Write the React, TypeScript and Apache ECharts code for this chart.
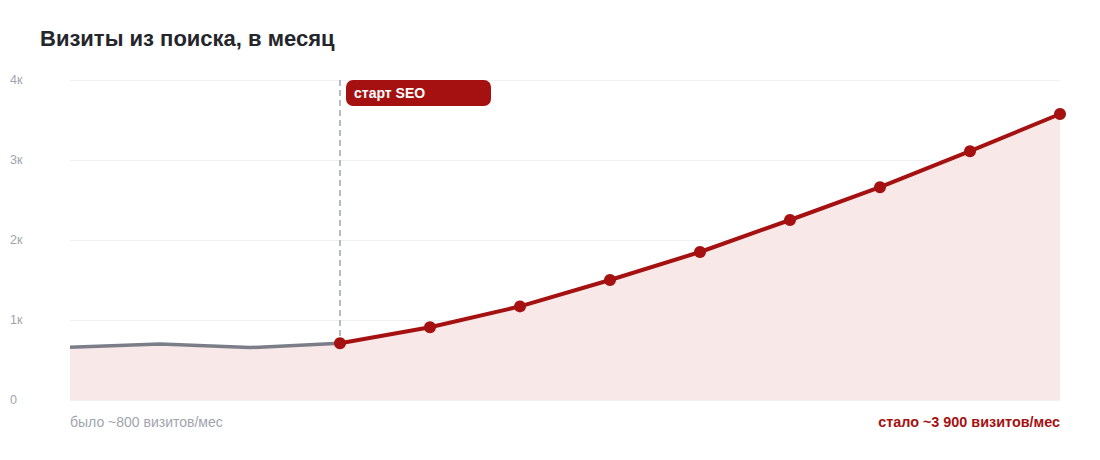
import { useEffect, useRef } from "react";
import * as echarts from "echarts";

const months = ["1", "2", "3", "4", "5", "6", "7", "8", "9", "10", "11", "12"];
const beforeSeo = [660, 700, 655, 710, null, null, null, null, null, null, null, null];
const afterSeo = [null, null, null, 710, 910, 1170, 1500, 1850, 2250, 2660, 3110, 3575];
const yTicks = [0, 1000, 2000, 3000, 4000];
const seoStartIndex = 3;

const FONT = "'Liberation Sans', Arial, sans-serif";
const RED = "#a51111";
const GRAY = "#7b7e88";
const AREA = "#f9e8e8";

export default function App() {
  const ref = useRef<HTMLDivElement>(null);

  useEffect(() => {
    document.body.style.margin = "0";
    const el = ref.current;
    if (!el) return;
    const chart = echarts.init(el, null, { renderer: "svg" });

    chart.setOption({
      animation: false,
      backgroundColor: "#ffffff",
      textStyle: { fontFamily: FONT },
      grid: { left: 70, right: 40, top: 80, bottom: 60 },
      xAxis: {
        type: "category",
        data: months,
        boundaryGap: false,
        axisLine: { show: false },
        axisTick: { show: false },
        axisLabel: { show: false },
      },
      yAxis: {
        type: "value",
        min: yTicks[0],
        max: yTicks[yTicks.length - 1],
        interval: 1000,
        axisLine: { show: false },
        axisTick: { show: false },
        axisLabel: {
          color: "#a0a4ad",
          fontSize: 12.5,
          fontFamily: FONT,
          align: "left",
          margin: 60,
          formatter: (v: number) => (v === 0 ? "0" : `${v / 1000}к`),
        },
        splitLine: { lineStyle: { color: "#eef0f3", width: 1 } },
      },
      series: [
        {
          type: "line",
          data: beforeSeo,
          showSymbol: false,
          lineStyle: { color: GRAY, width: 3.5 },
          itemStyle: { color: GRAY },
          areaStyle: { color: AREA, opacity: 1 },
          z: 2,
        },
        {
          type: "line",
          data: afterSeo,
          symbol: "circle",
          symbolSize: 12,
          lineStyle: { color: RED, width: 4 },
          itemStyle: { color: RED },
          areaStyle: { color: AREA, opacity: 1 },
          z: 3,
          markLine: {
            silent: true,
            symbol: "none",
            label: { show: false },
            lineStyle: { color: "#b6bac3", type: [6, 4], width: 2 },
            data: [[{ coord: [seoStartIndex, 4000] }, { coord: [seoStartIndex, 60] }]],
            z: 1,
          },
        },
      ],
    });

    const [px, py] = chart.convertToPixel({ gridIndex: 0 }, [seoStartIndex, yTicks[yTicks.length - 1]]) as number[];

    chart.setOption({
      graphic: [
        {
          type: "text",
          left: 40,
          top: 27,
          style: {
            text: "Визиты из поиска, в месяц",
            fill: "#24262c",
            font: `bold 22px ${FONT}`,
          },
        },
        {
          type: "group",
          x: px + 6,
          y: py,
          children: [
            {
              type: "rect",
              shape: { x: 0, y: 0, width: 145, height: 26, r: 7 },
              style: { fill: RED },
            },
            {
              type: "text",
              x: 8,
              y: 13,
              style: {
                text: "старт SEO",
                fill: "#ffffff",
                font: `bold 14px ${FONT}`,
                verticalAlign: "middle",
              },
            },
          ],
        },
        {
          type: "text",
          left: 70,
          top: 415,
          style: {
            text: "было ~800 визитов/мес",
            fill: "#a0a4ad",
            font: `14px ${FONT}`,
          },
        },
        {
          type: "text",
          right: 40,
          top: 415,
          style: {
            text: "стало ~3 900 визитов/мес",
            fill: RED,
            font: `bold 14.4px ${FONT}`,
          },
        },
      ],
    });

    return () => chart.dispose();
  }, []);

  return <div ref={ref} style={{ width: 1100, height: 460 }} />;
}
